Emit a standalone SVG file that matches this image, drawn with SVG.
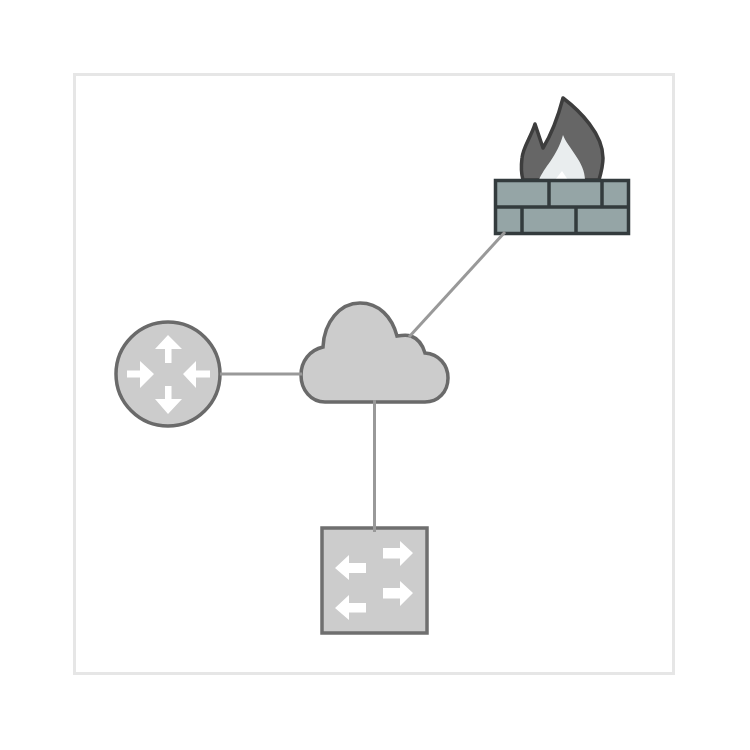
<svg xmlns="http://www.w3.org/2000/svg" width="750" height="750" viewBox="0 0 750 750">
  <style>
    .frame{fill:#fff;stroke:#e6e6e6;stroke-width:3}
    .gray{fill:#ccc;stroke:#6a6a6a;stroke-width:3.500}
    .arrow{fill:#fff;stroke:none}
    .brick{fill:none;stroke:#333b3d;stroke-width:3.500}
    .wire{fill:none;stroke:#999;stroke-width:3}
  </style>
  <rect width="750" height="750" fill="#fff"/>
  <rect id="frame" class="frame" x="74.500" y="74.500" width="599" height="599"/>
  <g id="firewall">
    <path d="M563 98C580 111 603 134 603 158C603 166 601 173 599 180L523 180C521 173 521 166 522 158C523 147 531 137 535 124L543 148C551 135 558 117 563 98Z" fill="#666" stroke="#3d3d3d" stroke-width="3.500" stroke-linejoin="round"/>
    <path d="M563 135C568 148 585 162 585 180L539 180C544 167 557 157 563 135Z" fill="#e9edee"/>
    <path d="M555 180L562 171L568 180Z" fill="#fff"/>
    <rect x="495.500" y="180.500" width="133" height="53" fill="#95a5a6" stroke="#333b3d" stroke-width="3.500"/>
    <path class="brick" d="M495 207H629M549 181V207M602 181V207M522 207V233M576 207V233"/>
  </g>
  <g id="router">
    <circle class="gray" cx="168" cy="374" r="52"/>
    <path class="arrow" d="M168 335L182 349H171.500V363H165V349H155Z"/>
    <path class="arrow" d="M168 414L182 399H171.500V386H165V399H155Z"/>
    <path class="arrow" d="M154 374L140 361V370.500H127V377.500H140V388Z"/>
    <path class="arrow" d="M183 374L196 361V370.500H210V377.500H196V388Z"/>
  </g>
  <g id="cloud">
    <path class="gray" d="M323 347C324 322 340 303 360 303C379 303 392 317 397 336C403 335 408 335 411 336C419 339 423 346 425 353C439 354 448 365 448 378C448 392 438 402 425 402H325C311 402 301 390 301 375C301 361 310 350 323 347Z"/>
  </g>
  <g id="switch">
    <rect x="322" y="528" width="105" height="105" fill="#ccc" stroke="#6f6f6f" stroke-width="3.500"/>
    <path class="arrow" d="M413 553L400 541V548H383V558.500H400V566Z"/>
    <path class="arrow" d="M413 593L400 581V588H383V598.500H400V606Z"/>
    <path class="arrow" d="M335 568L349 555V563H366V573H349V580Z"/>
    <path class="arrow" d="M335 608L349 595V603H366V612.500H349V620Z"/>
  </g>
  <g id="connectors">
    <path class="wire" d="M220 374H302"/>
    <path class="wire" d="M374.500 400V532"/>
    <path class="wire" d="M505 232L409 337"/>
  </g>
</svg>
